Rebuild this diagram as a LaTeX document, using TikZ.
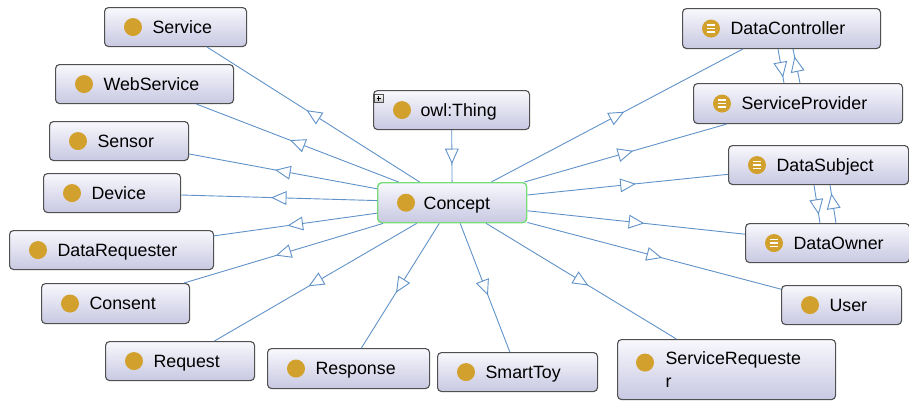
\documentclass[tikz,border=0pt]{standalone}
\usepackage{fontspec}
\setmainfont{Liberation Sans}
\usetikzlibrary{decorations.markings}
\definecolor{gold}{RGB}{210,160,44}
\definecolor{edgec}{RGB}{96,146,200}
\definecolor{boxborder}{RGB}{80,80,80}
\definecolor{boxtop}{RGB}{248,248,253}
\definecolor{boxbot}{RGB}{200,200,226}
\definecolor{greenb}{RGB}{120,220,120}
\tikzset{
  cls/.style={draw=boxborder, line width=1.1pt, rounded corners=4pt,
    top color=boxtop, bottom color=boxbot, anchor=north west,
    inner xsep=0pt, inner ysep=0pt, align=left,
    font=\fontsize{17.8pt}{23pt}\selectfont},
  one/.style={text height=12.8pt, text depth=0pt},
  edge/.style={draw=edgec, line width=0.9pt},
  mid/.style={postaction={decorate}, decoration={markings,
    mark=at position #1 with {\draw[edgec, fill=white, line width=0.9pt]
      (7pt,0pt) -- (-7pt,6.3pt) -- (-7pt,-6.3pt) -- cycle;}}},
  mid/.default=0.5
}
\newcommand\klass[7][48]{\node[cls, one, text width=#5pt, minimum height=#6pt] (#2) at (#3,#4) {\hspace*{#1pt}#7};}
\begin{document}
\begin{tikzpicture}[x=1pt,y=-1pt]
\useasboundingbox (0,0) rectangle (909,400);
% nodes
\klass{service}{104}{7}{142}{39}{Service}
\klass{webservice}{55}{64}{178}{39}{WebService}
\klass{sensor}{49}{121}{139}{39}{Sensor}
\klass{device}{43}{173}{137}{39}{Device}
\klass{datarequester}{9}{230}{204}{39}{DataRequester}
\klass{consent}{41}{283}{148}{40}{Consent}
\klass{request}{105}{341}{149}{39}{Request}
\klass{response}{267}{348}{162}{40}{Response}
\klass{smarttoy}{437}{352}{160}{39}{SmartToy}
\node[cls, text width=218pt, minimum height=60pt] (sr) at (617,339) {\hspace*{48pt}ServiceRequeste\\\hspace*{48pt}r};
\klass{user}{781}{285}{120}{39}{User}
\klass{do}{745}{223}{164}{39}{DataOwner}
\klass{ds}{728}{145}{180}{39}{DataSubject}
\klass{dc}{682}{8}{198}{40}{DataController}
\klass{sp}{693}{83}{209}{40}{ServiceProvider}
\klass[47]{thing}{373}{90}{156}{39}{owl:Thing}
\node[cls, one, draw=greenb, line width=1.4pt, text width=149pt, minimum height=40pt] (concept) at (377,182) {\hspace*{46pt}Concept};
% icons
\foreach \n in {service,webservice,sensor,device,datarequester,consent,request,response,smarttoy,user,thing,concept}
  \fill[gold] ([xshift=29pt]\n.west) circle[radius=9pt];
\fill[gold] ([xshift=28pt,yshift=7pt]sr.west) circle[radius=9pt];
\foreach \n in {dc,sp,ds,do}{
  \fill[gold] ([xshift=29pt]\n.west) circle[radius=9pt];
  \foreach \d in {-3.5,0,3.5}
    \draw[white, line width=1.4pt] ([xshift=25pt,yshift=\d pt]\n.west) -- ++(8pt,0pt);
}
% plus box on owl:Thing
\draw[boxborder, line width=0.7pt, top color=white, bottom color=black!25]
  ([xshift=1.5pt,yshift=-4pt]thing.north west) rectangle ++(8.5pt,-8.5pt);
\draw[black, line width=0.9pt]
  ([xshift=3.5pt,yshift=-8.25pt]thing.north west) -- ++(4.5pt,0pt)
  ([xshift=5.75pt,yshift=-6pt]thing.north west) -- ++(0pt,-4.5pt);
% edges
\draw[edge, mid] (thing) -- (concept);
\foreach \n in {service,webservice,sensor,device,datarequester,consent,request,response,smarttoy,sr,user,do,ds,dc,sp}
  \draw[edge, mid] (concept) -- (\n);
\draw[edge, mid=0.6] ([xshift=96pt]dc.south west) -- ([xshift=91pt]sp.north west);
\draw[edge, mid=0.55] ([xshift=107pt]sp.north west) -- ([xshift=111pt]dc.south west);
\draw[edge, mid=0.57] ([xshift=86pt]ds.south west) -- ([xshift=75pt]do.north west);
\draw[edge, mid=0.57] ([xshift=91pt]do.north west) -- ([xshift=102pt]ds.south west);
\end{tikzpicture}
\end{document}
